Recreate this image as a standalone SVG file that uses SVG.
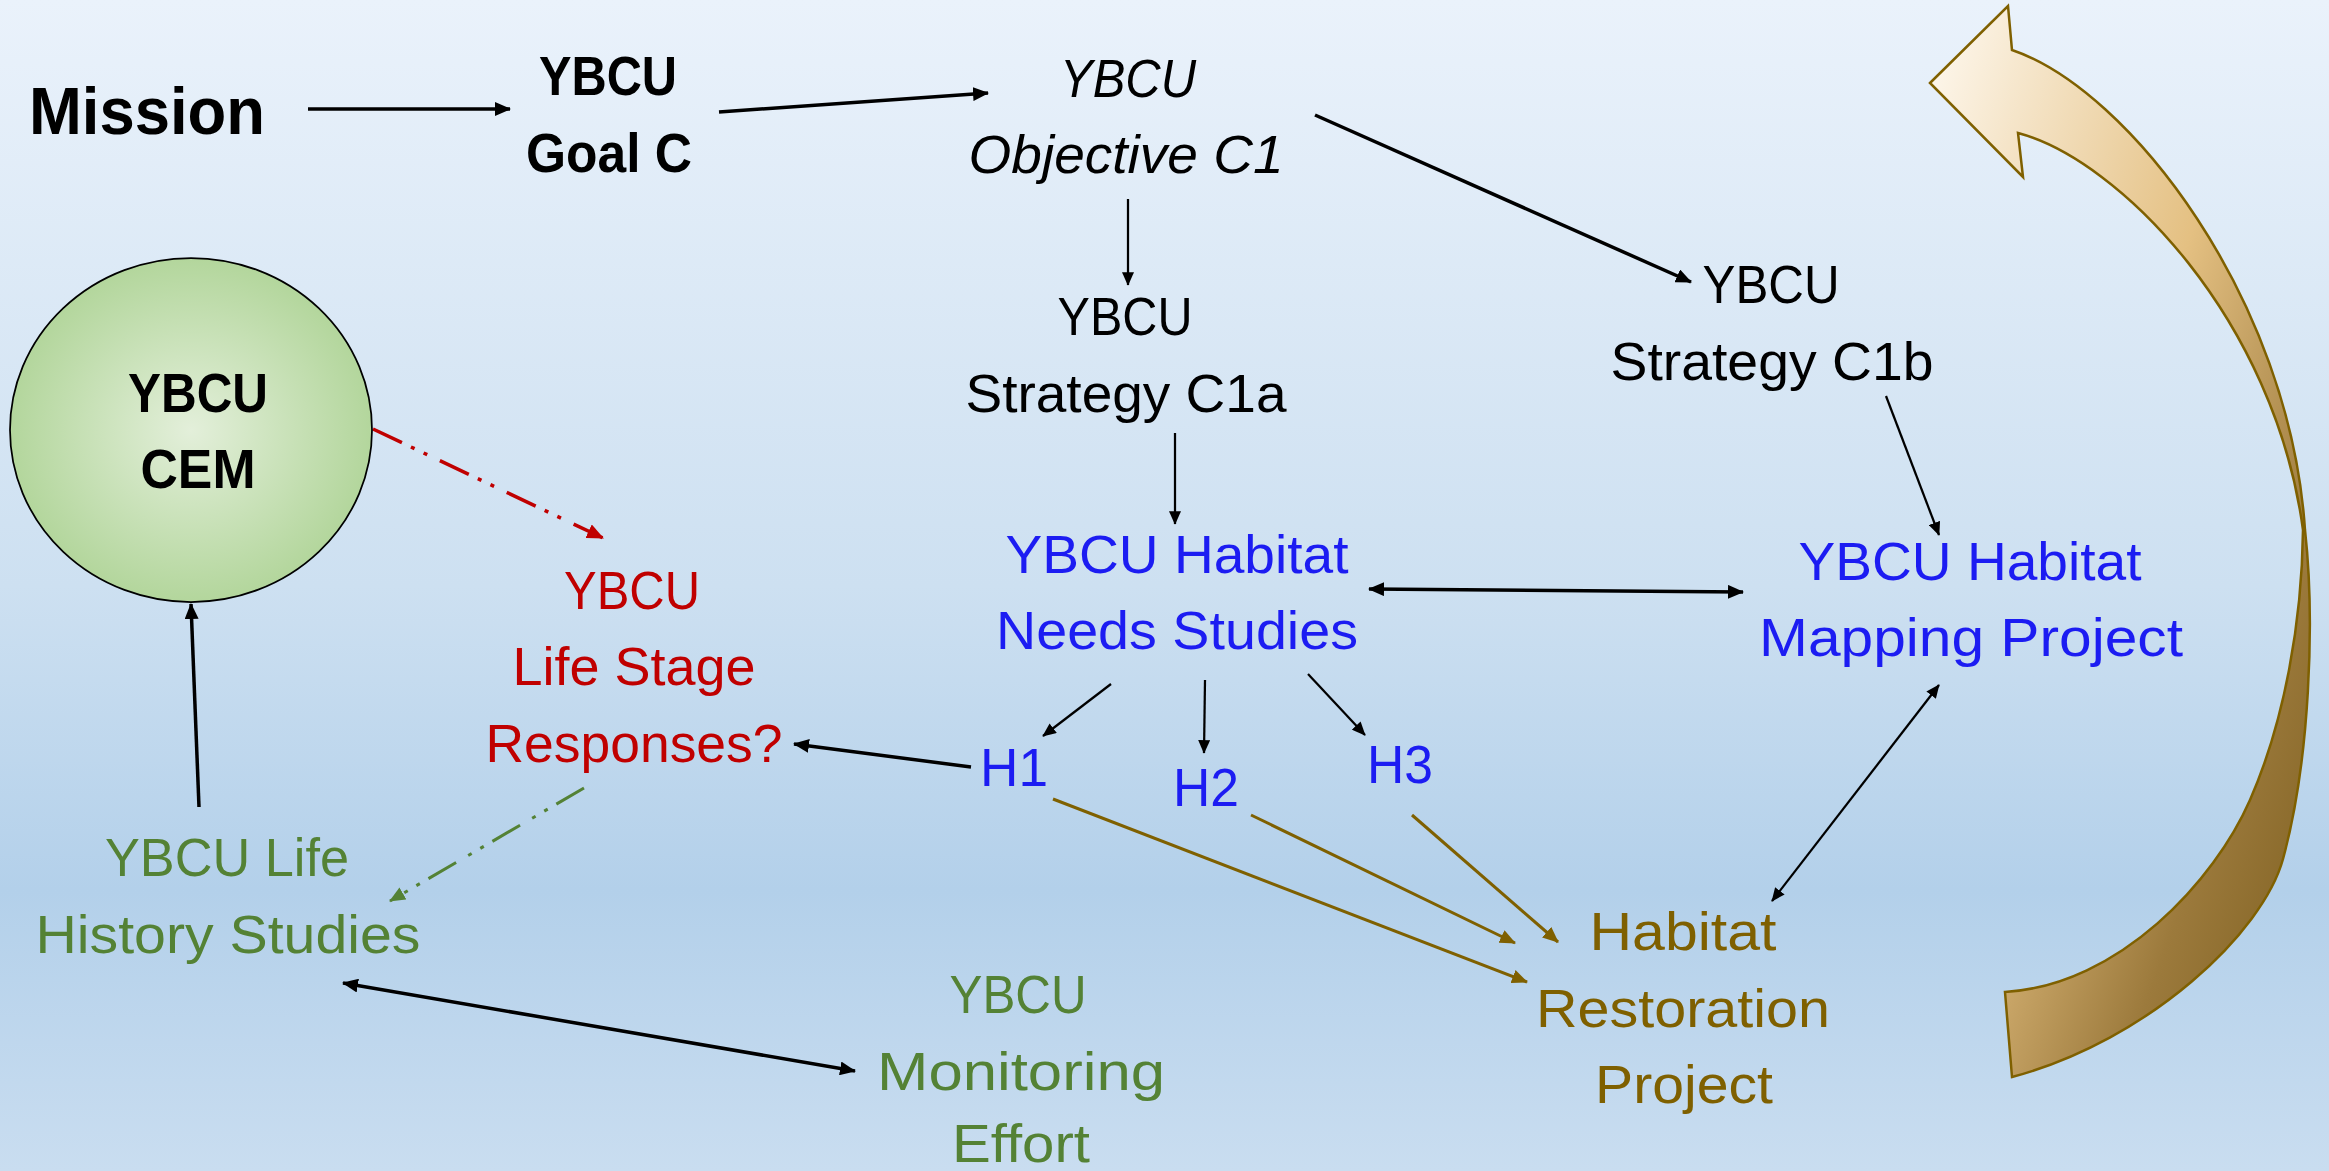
<svg xmlns="http://www.w3.org/2000/svg" width="2329" height="1171" viewBox="0 0 2329 1171">
  <defs>
    <linearGradient id="bg" x1="0" y1="0" x2="0" y2="1">
      <stop offset="0" stop-color="#eaf2fb"/>
      <stop offset="0.5" stop-color="#cde0f1"/>
      <stop offset="0.76" stop-color="#b3d0ea"/>
      <stop offset="1" stop-color="#c9ddf0"/>
    </linearGradient>
    <radialGradient id="cemFill" cx="0.5" cy="0.5" r="0.5">
      <stop offset="0" stop-color="#e3efda"/>
      <stop offset="1" stop-color="#b3d69c"/>
    </radialGradient>
    <linearGradient id="loopFill" x1="0" y1="0" x2="1" y2="1">
      <stop offset="0" stop-color="#fffaf2"/>
      <stop offset="0.45" stop-color="#e4c082"/>
      <stop offset="0.75" stop-color="#9c7a3c"/>
      <stop offset="1" stop-color="#7a5c1c"/>
    </linearGradient>
    <marker id="ah-black" viewBox="0 0 16 14" refX="15" refY="7" markerWidth="16" markerHeight="14" markerUnits="userSpaceOnUse" orient="auto-start-reverse">
      <path d="M0,0 L16,7 L0,14 z" fill="#000"/>
    </marker>
    <marker id="ah-black-s" viewBox="0 0 16 14" refX="15" refY="7" markerWidth="14" markerHeight="12" markerUnits="userSpaceOnUse" orient="auto-start-reverse">
      <path d="M0,0 L16,7 L0,14 z" fill="#000"/>
    </marker>
    <marker id="ah-brown" viewBox="0 0 16 14" refX="15" refY="7" markerWidth="16" markerHeight="14" markerUnits="userSpaceOnUse" orient="auto">
      <path d="M0,0 L16,7 L0,14 z" fill="#7f6000"/>
    </marker>
    <marker id="ah-red" viewBox="0 0 16 14" refX="15" refY="7" markerWidth="17" markerHeight="15" markerUnits="userSpaceOnUse" orient="auto">
      <path d="M0,0 L16,7 L0,14 z" fill="#c00000"/>
    </marker>
    <marker id="ah-green" viewBox="0 0 16 14" refX="15" refY="7" markerWidth="16" markerHeight="14" markerUnits="userSpaceOnUse" orient="auto">
      <path d="M0,0 L16,7 L0,14 z" fill="#548235"/>
    </marker>
  </defs>
  <style>
    text { font-family: "Liberation Sans", Arial, sans-serif; text-anchor: middle; }
    .bold { font-weight: bold; fill: #000; }
    .reg { font-size: 54px; }
    .blk { fill: #000; }
    .it { font-style: italic; }
    .blue { fill: #1c1cf2; }
    .red { fill: #c00000; }
    .green { fill: #548235; }
    .brown { fill: #7f6000; }
    .ln { fill: none; stroke: #000; }
    .thick { stroke-width: 3.5; }
    .thin { stroke-width: 2.25; }
    .lnbrown { fill: none; stroke: #7f6000; stroke-width: 3; }
    .dashred { fill: none; stroke: #c00000; stroke-width: 3.5; stroke-dasharray: 32 10 4 10 4 14; }
    .dashgreen { fill: none; stroke: #548235; stroke-width: 3; stroke-dasharray: 32 10 4 10 4 14; }
  </style>

  <rect x="0" y="0" width="2329" height="1171" fill="url(#bg)"/>

  <!-- twisted ribbon arrow looping back to the top -->
  <g id="cycle-arrow">
    <path d="M1930,83 L2008,6 L2012,50 C2130,90 2290,300 2305,530 C2315,620 2310,760 2283,859 C2263,932 2150,1040 2012,1077 L2005,992 C2120,985 2215,880 2250,800 C2285,720 2302,620 2303,530 C2275,320 2120,160 2018,133 L2023,177 Z" fill="url(#loopFill)" stroke="#7f6000" stroke-width="2.5" stroke-linejoin="miter"/>
  </g>

  <g id="connectors">
    <line class="ln thick" x1="308" y1="109" x2="510" y2="109" marker-end="url(#ah-black)"/>
    <line class="ln thick" x1="719" y1="112" x2="988" y2="93" marker-end="url(#ah-black)"/>
    <line class="ln thick" x1="1315" y1="115" x2="1691" y2="282" marker-end="url(#ah-black)"/>
    <line class="ln thin" x1="1128" y1="199" x2="1128" y2="285" marker-end="url(#ah-black-s)"/>
    <line class="ln thin" x1="1175" y1="433" x2="1175" y2="524" marker-end="url(#ah-black-s)"/>
    <line class="ln thin" x1="1886" y1="396" x2="1939" y2="535" marker-end="url(#ah-black-s)"/>
    <line class="ln thick" x1="1369" y1="589" x2="1743" y2="592" marker-start="url(#ah-black)" marker-end="url(#ah-black)"/>
    <line class="ln thin" x1="1111" y1="684" x2="1043" y2="736" marker-end="url(#ah-black-s)"/>
    <line class="ln thin" x1="1205" y1="680" x2="1204" y2="753" marker-end="url(#ah-black-s)"/>
    <line class="ln thin" x1="1308" y1="674" x2="1365" y2="735" marker-end="url(#ah-black-s)"/>
    <line class="ln thick" x1="971" y1="767" x2="794" y2="744" marker-end="url(#ah-black)"/>
    <line class="ln thin" x1="1939" y1="685" x2="1772" y2="901" marker-start="url(#ah-black-s)" marker-end="url(#ah-black-s)"/>
    <line class="lnbrown" x1="1053" y1="799" x2="1527" y2="982" marker-end="url(#ah-brown)"/>
    <line class="lnbrown" x1="1251" y1="815" x2="1515" y2="943" marker-end="url(#ah-brown)"/>
    <line class="lnbrown" x1="1412" y1="815" x2="1558" y2="942" marker-end="url(#ah-brown)"/>
    <line class="ln thick" x1="199" y1="807" x2="191" y2="604" marker-end="url(#ah-black)"/>
    <line class="ln thick" x1="343" y1="983" x2="855" y2="1071" marker-start="url(#ah-black)" marker-end="url(#ah-black)"/>
    <line class="dashred" x1="373" y1="429" x2="603" y2="538" marker-end="url(#ah-red)"/>
    <line class="dashgreen" x1="584" y1="788" x2="390" y2="901" marker-end="url(#ah-green)"/>
  </g>

  <g id="node-mission">
    <text class="bold" x="147" y="134" font-size="66" textLength="236" lengthAdjust="spacingAndGlyphs">Mission</text>
  </g>

  <g id="node-goal">
    <text class="bold" x="608" y="95" font-size="56" textLength="138" lengthAdjust="spacingAndGlyphs">YBCU</text>
    <text class="bold" x="609" y="172" font-size="56" textLength="166" lengthAdjust="spacingAndGlyphs">Goal C</text>
  </g>

  <g id="node-objective">
    <text class="reg blk it" x="1128" y="97" textLength="136" lengthAdjust="spacingAndGlyphs">YBCU</text>
    <text class="reg blk it" x="1126" y="173" textLength="315" lengthAdjust="spacingAndGlyphs">Objective C1</text>
  </g>

  <g id="node-strategy-c1a">
    <text class="reg blk" x="1125" y="335" textLength="135" lengthAdjust="spacingAndGlyphs">YBCU</text>
    <text class="reg blk" x="1126" y="412" textLength="321" lengthAdjust="spacingAndGlyphs">Strategy C1a</text>
  </g>

  <g id="node-strategy-c1b">
    <text class="reg blk" x="1771" y="303" textLength="137" lengthAdjust="spacingAndGlyphs">YBCU</text>
    <text class="reg blk" x="1772" y="380" textLength="323" lengthAdjust="spacingAndGlyphs">Strategy C1b</text>
  </g>

  <g id="node-needs-studies">
    <text class="reg blue" x="1177" y="573" textLength="343" lengthAdjust="spacingAndGlyphs">YBCU Habitat</text>
    <text class="reg blue" x="1177" y="649" textLength="362" lengthAdjust="spacingAndGlyphs">Needs Studies</text>
  </g>

  <g id="node-mapping">
    <text class="reg blue" x="1970" y="580" textLength="343" lengthAdjust="spacingAndGlyphs">YBCU Habitat</text>
    <text class="reg blue" x="1971" y="656" textLength="424" lengthAdjust="spacingAndGlyphs">Mapping Project</text>
  </g>

  <g id="node-h1">
    <text class="reg blue" x="1014" y="786" textLength="68" lengthAdjust="spacingAndGlyphs">H1</text>
  </g>
  <g id="node-h2">
    <text class="reg blue" x="1206" y="806" textLength="66" lengthAdjust="spacingAndGlyphs">H2</text>
  </g>
  <g id="node-h3">
    <text class="reg blue" x="1400" y="783" textLength="66" lengthAdjust="spacingAndGlyphs">H3</text>
  </g>

  <g id="node-restoration">
    <text class="reg brown" x="1683" y="950" textLength="187" lengthAdjust="spacingAndGlyphs">Habitat</text>
    <text class="reg brown" x="1683" y="1027" textLength="294" lengthAdjust="spacingAndGlyphs">Restoration</text>
    <text class="reg brown" x="1684" y="1103" textLength="178" lengthAdjust="spacingAndGlyphs">Project</text>
  </g>

  <g id="node-monitoring">
    <text class="reg green" x="1018" y="1013" textLength="137" lengthAdjust="spacingAndGlyphs">YBCU</text>
    <text class="reg green" x="1021" y="1090" textLength="288" lengthAdjust="spacingAndGlyphs">Monitoring</text>
    <text class="reg green" x="1021" y="1162" textLength="138" lengthAdjust="spacingAndGlyphs">Effort</text>
  </g>

  <g id="node-life-stage">
    <text class="reg red" x="632" y="609" textLength="136" lengthAdjust="spacingAndGlyphs">YBCU</text>
    <text class="reg red" x="634" y="685" textLength="243" lengthAdjust="spacingAndGlyphs">Life Stage</text>
    <text class="reg red" x="634" y="762" textLength="297" lengthAdjust="spacingAndGlyphs">Responses?</text>
  </g>

  <g id="node-life-history">
    <text class="reg green" x="227" y="876" textLength="244" lengthAdjust="spacingAndGlyphs">YBCU Life</text>
    <text class="reg green" x="228" y="953" textLength="385" lengthAdjust="spacingAndGlyphs">History Studies</text>
  </g>

  <g id="node-cem">
    <ellipse cx="191" cy="430" rx="181" ry="172" fill="url(#cemFill)" stroke="#000" stroke-width="1.75"/>
    <text class="bold" x="198" y="412" font-size="56" textLength="140" lengthAdjust="spacingAndGlyphs">YBCU</text>
    <text class="bold" x="198" y="488" font-size="56" textLength="115" lengthAdjust="spacingAndGlyphs">CEM</text>
  </g>
</svg>
